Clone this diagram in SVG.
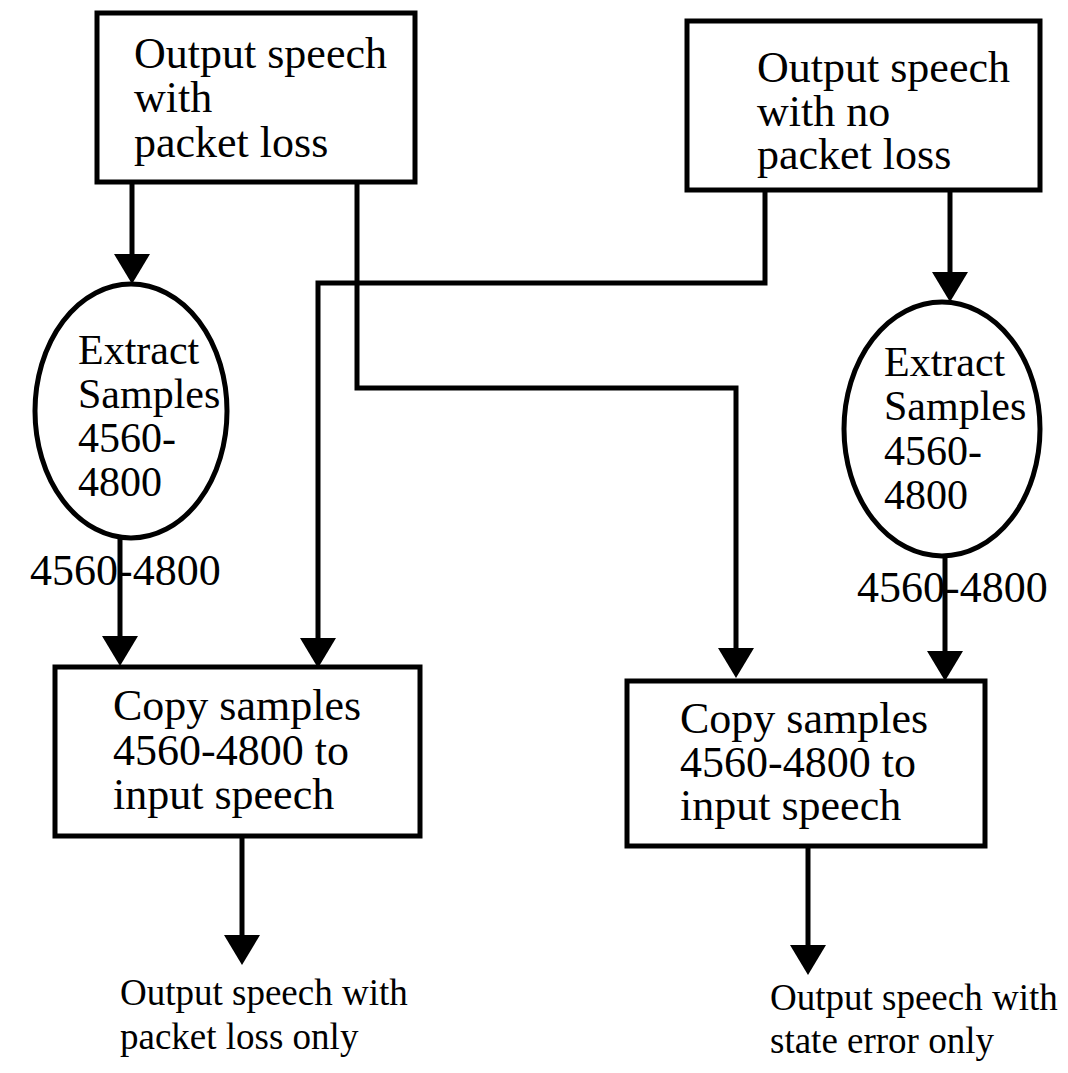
<svg xmlns="http://www.w3.org/2000/svg" width="1068" height="1073" viewBox="0 0 1068 1073">
  <style>
    .box { fill: #ffffff; stroke: #000000; stroke-width: 5; }
    .oval { fill: #ffffff; stroke: #000000; stroke-width: 5; }
    .wire { fill: none; stroke: #000000; stroke-width: 5; stroke-linejoin: miter; }
    text { font-family: "Liberation Serif", "Times New Roman", serif; font-size: 44px; fill: #000000; }
    .inner { font-size: 42px; }
    .result { font-size: 37px; }
  </style>
  <defs>
    <marker id="head" viewBox="0 0 30 36" markerUnits="userSpaceOnUse" markerWidth="30" markerHeight="36" refX="12" refY="18" orient="auto">
      <path d="M0,0 L30,18 L0,36 Z" fill="#000000"/>
    </marker>
  </defs>
  <rect width="1068" height="1073" fill="#ffffff"/>

  <!-- connectors (each line stops 18px short of its arrow tip) -->
  <g id="connectors">
    <path class="wire" d="M132,182 V266" marker-end="url(#head)"/>
    <path class="wire" d="M357,182 V388 H736 V660" marker-end="url(#head)"/>
    <path class="wire" d="M765,190 V283 H318 V650" marker-end="url(#head)"/>
    <path class="wire" d="M950,190 V284" marker-end="url(#head)"/>
    <path class="wire" d="M120,538 V648" marker-end="url(#head)"/>
    <path class="wire" d="M945,557 V663" marker-end="url(#head)"/>
    <path class="wire" d="M242,836 V947" marker-end="url(#head)"/>
    <path class="wire" d="M808,846 V957" marker-end="url(#head)"/>
  </g>

  <g id="src-loss">
    <rect class="box" x="97" y="13" width="318" height="169"/>
    <text x="134" y="68">Output speech</text>
    <text x="134" y="112">with</text>
    <text x="134" y="157">packet loss</text>
  </g>

  <g id="src-clean">
    <rect class="box" x="687" y="21" width="353" height="169"/>
    <text x="757" y="82">Output speech</text>
    <text x="757" y="126">with no</text>
    <text x="757" y="169">packet loss</text>
  </g>

  <g id="extract-left">
    <ellipse class="oval" cx="131" cy="411" rx="96" ry="127"/>
    <text class="inner" x="78" y="364">Extract</text>
    <text class="inner" x="78" y="408">Samples</text>
    <text class="inner" x="78" y="452">4560-</text>
    <text class="inner" x="78" y="496">4800</text>
  </g>

  <g id="extract-right">
    <ellipse class="oval" cx="942" cy="429" rx="98" ry="127"/>
    <text class="inner" x="884" y="376">Extract</text>
    <text class="inner" x="884" y="420">Samples</text>
    <text class="inner" x="884" y="465">4560-</text>
    <text class="inner" x="884" y="509">4800</text>
  </g>

  <g id="label-left">
    <text x="30" y="585">4560-4800</text>
  </g>
  <g id="label-right">
    <text x="857" y="602">4560-4800</text>
  </g>

  <g id="copy-left">
    <rect class="box" x="55" y="667" width="365" height="169"/>
    <text x="113" y="720">Copy samples</text>
    <text x="113" y="765">4560-4800 to</text>
    <text x="113" y="809">input speech</text>
  </g>

  <g id="copy-right">
    <rect class="box" x="627" y="681" width="358" height="165"/>
    <text x="680" y="733">Copy samples</text>
    <text x="680" y="777">4560-4800 to</text>
    <text x="680" y="820">input speech</text>
  </g>

  <g id="out-left">
    <text class="result" x="120" y="1005">Output speech with</text>
    <text class="result" x="120" y="1049">packet loss only</text>
  </g>
  <g id="out-right">
    <text class="result" x="770" y="1010">Output speech with</text>
    <text class="result" x="770" y="1053">state error only</text>
  </g>
</svg>
